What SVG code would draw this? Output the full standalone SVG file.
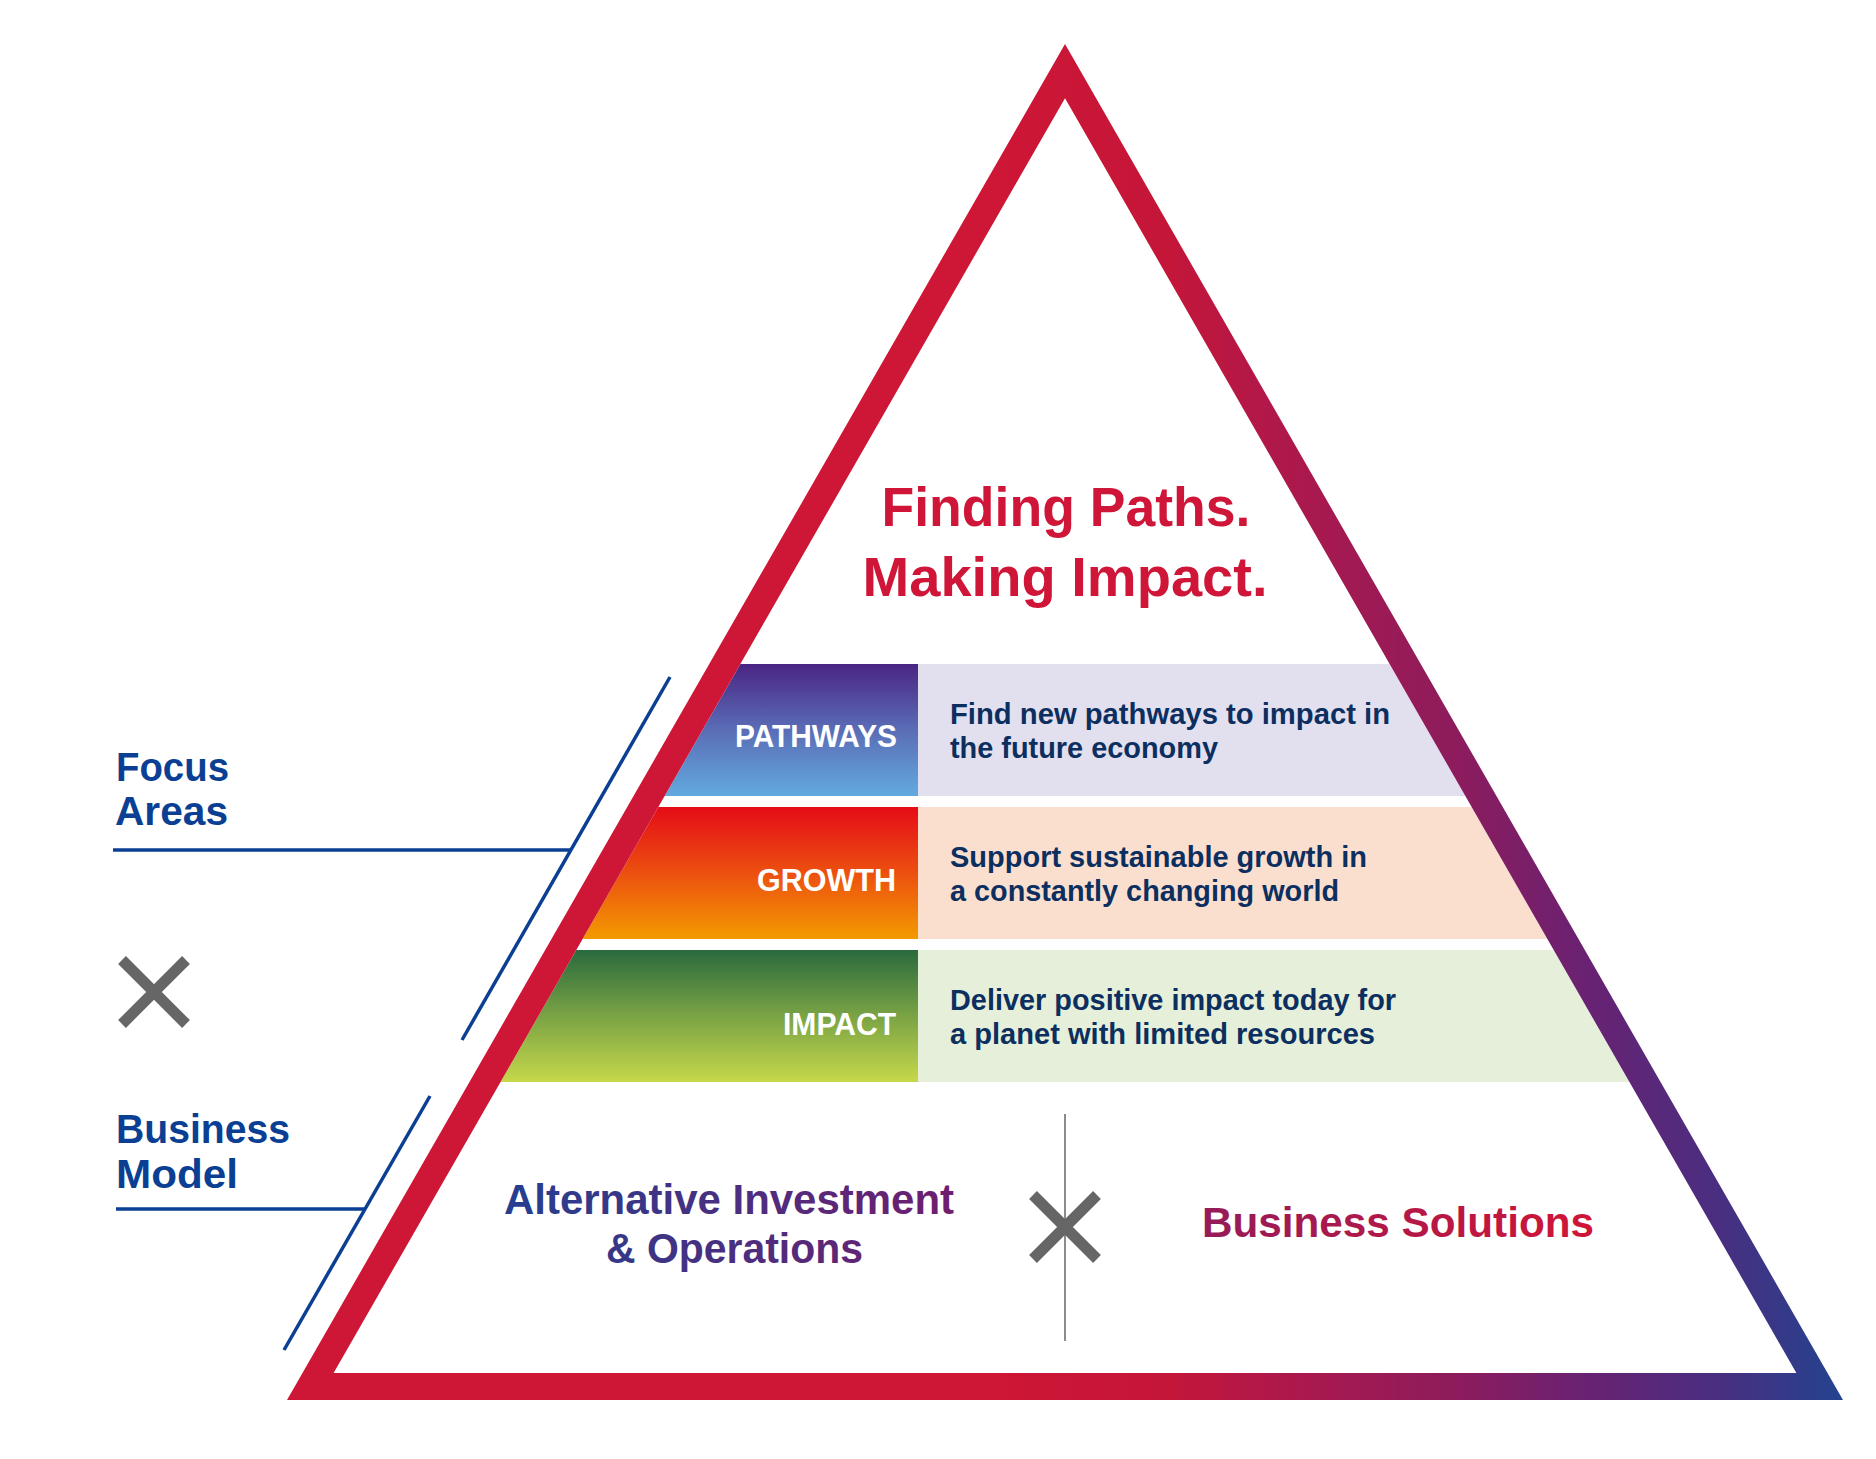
<svg xmlns="http://www.w3.org/2000/svg" width="1876" height="1459" viewBox="0 0 1876 1459">
<style>
.band-label{font-family:"Liberation Sans",Arial,sans-serif;font-weight:bold;font-size:31px;fill:#ffffff;text-anchor:end}
.desc{font-family:"Liberation Sans",Arial,sans-serif;font-weight:bold;font-size:29px;fill:#0d2f5f}
.side{font-family:"Liberation Sans",Arial,sans-serif;font-weight:bold;font-size:41px;fill:#0a3f94}
.title{font-family:"Liberation Sans",Arial,sans-serif;font-weight:bold;font-size:56px;fill:#cf1638;text-anchor:middle}
.big{font-family:"Liberation Sans",Arial,sans-serif;font-weight:bold;font-size:42px}
.blue-line{stroke:#0a3f94;stroke-width:3.5;fill:none}
.xmark{stroke:#666666;stroke-width:11;fill:none;stroke-linecap:butt}
</style>
<defs>
<linearGradient id="ring" gradientUnits="userSpaceOnUse" x1="1000" y1="0" x2="1843" y2="0">
<stop offset="0" stop-color="#ce1636"/>
<stop offset="0.2" stop-color="#c41639"/>
<stop offset="0.32" stop-color="#b1184a"/>
<stop offset="0.55" stop-color="#8b1c5e"/>
<stop offset="0.7" stop-color="#682273"/>
<stop offset="0.85" stop-color="#4a2e80"/>
<stop offset="1" stop-color="#23438f"/>
</linearGradient>
<linearGradient id="gPath" x1="0" y1="0" x2="0" y2="1">
<stop offset="0" stop-color="#4a2583"/>
<stop offset="0.5" stop-color="#5a6db6"/>
<stop offset="1" stop-color="#62aadf"/>
</linearGradient>
<linearGradient id="gGrowth" x1="0" y1="0" x2="0" y2="1">
<stop offset="0" stop-color="#e50c17"/>
<stop offset="0.5" stop-color="#ec5010"/>
<stop offset="1" stop-color="#f49a00"/>
</linearGradient>
<linearGradient id="gImpact" x1="0" y1="0" x2="0" y2="1">
<stop offset="0" stop-color="#2a6a3e"/>
<stop offset="0.5" stop-color="#7aa344"/>
<stop offset="1" stop-color="#c6d84b"/>
</linearGradient>
<linearGradient id="gAio" gradientUnits="userSpaceOnUse" x1="504" y1="0" x2="954" y2="0">
<stop offset="0" stop-color="#243f90"/>
<stop offset="1" stop-color="#701e6e"/>
</linearGradient>
<linearGradient id="gBs" gradientUnits="userSpaceOnUse" x1="1202" y1="0" x2="1594" y2="0">
<stop offset="0" stop-color="#951b59"/>
<stop offset="1" stop-color="#d01537"/>
</linearGradient>
<clipPath id="inner">
<polygon points="1065,98.2 333.6,1373 1796.4,1373"/>
</clipPath>
<path id="xshape" d="M -32 -32 L 32 32 M 32 -32 L -32 32"/>
</defs>
<rect x="0" y="0" width="1876" height="1459" fill="#ffffff"/>

<g id="band-pathways">
<g clip-path="url(#inner)">
<rect x="0" y="664" width="918" height="132" fill="url(#gPath)"/>
<rect x="918" y="664" width="958" height="132" fill="#e2e0ef"/>
</g>
<text class="band-label" x="897" y="747" textLength="162" lengthAdjust="spacingAndGlyphs">PATHWAYS</text>
<text class="desc" x="950" y="724" textLength="440" lengthAdjust="spacingAndGlyphs">Find new pathways to impact in</text>
<text class="desc" x="950" y="758" textLength="268" lengthAdjust="spacingAndGlyphs">the future economy</text>
</g>

<g id="band-growth">
<g clip-path="url(#inner)">
<rect x="0" y="807" width="918" height="132" fill="url(#gGrowth)"/>
<rect x="918" y="807" width="958" height="132" fill="#fadfcf"/>
</g>
<text class="band-label" x="896" y="891" textLength="139" lengthAdjust="spacingAndGlyphs">GROWTH</text>
<text class="desc" x="950" y="867" textLength="417" lengthAdjust="spacingAndGlyphs">Support sustainable growth in</text>
<text class="desc" x="950" y="901" textLength="389" lengthAdjust="spacingAndGlyphs">a constantly changing world</text>
</g>

<g id="band-impact">
<g clip-path="url(#inner)">
<rect x="0" y="950" width="918" height="132" fill="url(#gImpact)"/>
<rect x="918" y="950" width="958" height="132" fill="#e5efd9"/>
</g>
<text class="band-label" x="896" y="1035" textLength="113" lengthAdjust="spacingAndGlyphs">IMPACT</text>
<text class="desc" x="950" y="1010" textLength="446" lengthAdjust="spacingAndGlyphs">Deliver positive impact today for</text>
<text class="desc" x="950" y="1044" textLength="425" lengthAdjust="spacingAndGlyphs">a planet with limited resources</text>
</g>

<g id="pyramid">
<path d="M 1065 44 L 287 1400 L 1843 1400 Z M 1065 98.2 L 1796.4 1373 L 333.6 1373 Z" fill="url(#ring)" fill-rule="evenodd"/>
</g>

<g id="title">
<text class="title" x="1066" y="526" textLength="369" lengthAdjust="spacingAndGlyphs">Finding Paths.</text>
<text class="title" x="1065" y="596" textLength="405" lengthAdjust="spacingAndGlyphs">Making Impact.</text>
</g>

<g id="label-focus">
<text class="side" x="116" y="781" textLength="113" lengthAdjust="spacingAndGlyphs">Focus</text>
<text class="side" x="115" y="825" textLength="113" lengthAdjust="spacingAndGlyphs">Areas</text>
</g>

<g id="label-business">
<text class="side" x="116" y="1143" textLength="174" lengthAdjust="spacingAndGlyphs">Business</text>
<text class="side" x="116" y="1188" textLength="122" lengthAdjust="spacingAndGlyphs">Model</text>
</g>

<g id="aio">
<text class="big" x="504" y="1214" fill="url(#gAio)" textLength="450" lengthAdjust="spacingAndGlyphs">Alternative Investment</text>
<text class="big" x="606" y="1263" fill="url(#gAio)" textLength="257" lengthAdjust="spacingAndGlyphs">&amp; Operations</text>
</g>

<g id="bs">
<text class="big" x="1202" y="1237" fill="url(#gBs)" textLength="392" lengthAdjust="spacingAndGlyphs">Business Solutions</text>
</g>

<g id="connectors">
<line class="blue-line" x1="670" y1="677" x2="462" y2="1040"/>
<line class="blue-line" x1="113" y1="850" x2="571" y2="850"/>
<line class="blue-line" x1="430" y1="1096" x2="284" y2="1350"/>
<line class="blue-line" x1="116" y1="1209" x2="365" y2="1209"/>
<line x1="1065" y1="1114" x2="1065" y2="1341" stroke="#666666" stroke-width="1.5"/>
</g>

<g id="x-left">
<use href="#xshape" class="xmark" transform="translate(154 992)"/>
</g>
<g id="x-middle">
<use href="#xshape" class="xmark" transform="translate(1065 1227)"/>
</g>
</svg>
